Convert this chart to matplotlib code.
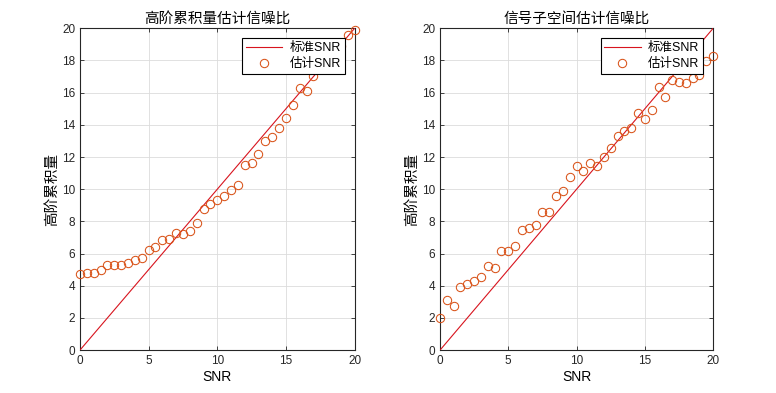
import numpy as np
import matplotlib
matplotlib.use('Agg')
import matplotlib.pyplot as plt

# Arial-like latin text, CJK falls back to Noto
plt.rcParams['font.family'] = ['Liberation Sans', 'Noto Sans CJK SC', 'DejaVu Sans']

snr = np.arange(0, 20.5, 0.5)

# estimated SNR, high-order cumulant method
est_hoc = [4.75, 4.82, 4.78, 5.01, 5.32, 5.32, 5.32, 5.42, 5.59, 5.73,
           6.21, 6.44, 6.83, 6.91, 7.29, 7.22, 7.39, 7.89, 8.78, 9.09,
           9.36, 9.57, 9.98, 10.27, 11.53, 11.66, 12.16, 13.02, 13.27, 13.83,
           14.43, 15.22, 16.29, 16.10, 17.04, 17.6, 18.1, 18.6, 18.9, 19.57,
           19.88]

# estimated SNR, signal subspace method
est_sub = [1.99, 3.11, 2.75, 3.91, 4.14, 4.28, 4.57, 5.22, 5.11, 6.19,
           6.17, 6.50, 7.47, 7.58, 7.78, 8.59, 8.59, 9.55, 9.90, 10.79,
           11.43, 11.14, 11.63, 11.45, 11.99, 12.57, 13.29, 13.62, 13.81, 14.72,
           14.39, 14.93, 16.36, 15.73, 16.81, 16.69, 16.63, 16.91, 17.12, 17.95,
           18.30]

titles = ['高阶累积量估计信噪比', '信号子空间估计信噪比']
ylabel = '高阶累积量'

fig = plt.figure(figsize=(7.76, 3.93), dpi=100)
ax1 = fig.add_axes([0.103, 0.109, 0.354, 0.819])
ax2 = fig.add_axes([0.567, 0.109, 0.352, 0.819])

for ax, est, title in zip([ax1, ax2], [est_hoc, est_sub], titles):
    ax.plot(snr, snr, color='#d8141e', lw=0.8, label='标准SNR', zorder=3)
    ax.plot(snr, est, 'o', mfc='none', mec='#d95319', ms=6, mew=0.75,
            label='估计SNR', zorder=3, clip_on=False)
    ax.set_xlim(0, 20)
    ax.set_ylim(0, 20)
    ax.set_xticks(np.arange(0, 21, 5))
    ax.set_yticks(np.arange(0, 21, 2))
    ax.grid(True, color='#dcdcdc', lw=0.6)
    ax.set_axisbelow(True)
    ax.tick_params(direction='in', top=True, right=True, labelsize=8.5,
                   length=3, width=0.6, colors='#262626')
    for s in ax.spines.values():
        s.set_linewidth(0.8)
        s.set_color('#262626')
    ax.set_title(title, fontsize=10.5, pad=4)
    ax.set_xlabel('SNR', fontsize=10, labelpad=2)
    ax.set_ylabel(ylabel, fontsize=10.5, labelpad=2)
    leg = ax.legend(loc='upper right', fontsize=9, frameon=True, fancybox=False,
                    edgecolor='black', framealpha=1, borderpad=0.3,
                    handlelength=2.9, labelspacing=0.35, borderaxespad=0.8,
                    handletextpad=0.6)
    leg.get_frame().set_linewidth(0.8)
    leg.set_zorder(10)

fig.savefig('out.png', dpi=100)
